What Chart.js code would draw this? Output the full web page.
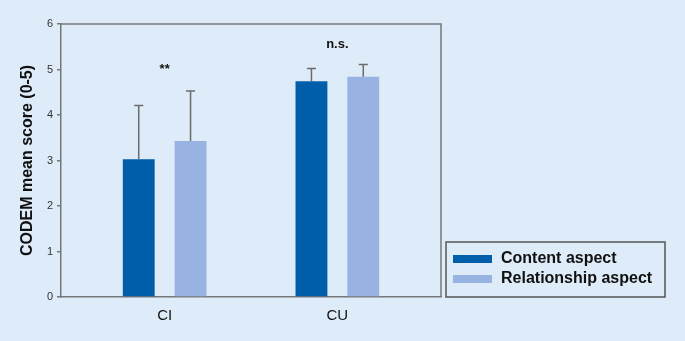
<!doctype html>
<html lang="en">
<head>
<meta charset="utf-8">
<title>CODEM mean score</title>
<script src="https://cdn.jsdelivr.net/npm/chart.js@4.4.0/dist/chart.umd.min.js"></script>
<style>
html, body { margin: 0; padding: 0; background: #deebf8; }
#wrap { width: 685px; height: 341px; }
</style>
</head>
<body>
<div id="wrap"><canvas id="barChart" width="685" height="341"></canvas></div>
<script>
// values
var groups = ['CI', 'CU'];
var seriesNames = ['Content aspect', 'Relationship aspect'];
var contentMean = [3.03, 4.74];
var contentSD = [1.18, 0.28];
var relationMean = [3.43, 4.84];
var relationSD = [1.10, 0.27];
var sigText = ['**', 'n.s.'];
var sigLevel = [5.01, 5.56];
var yTicks = [0, 1, 2, 3, 4, 5, 6];

var FONT = '"Liberation Sans", Arial, sans-serif';

function points(vals) {
  var out = [];
  for (var i = 0; i < vals.length; i++) out.push({x: i, y: vals[i]});
  return out;
}

// background of the whole canvas
var bgPlugin = {
  id: 'bg',
  beforeDraw: function(chart) {
    var ctx = chart.ctx;
    ctx.save();
    ctx.fillStyle = '#deebf8';
    ctx.fillRect(0, 0, chart.width, chart.height);
    ctx.restore();
  }
};

// top and right edge of the plot box
var framePlugin = {
  id: 'frame',
  afterDraw: function(chart) {
    var a = chart.chartArea, ctx = chart.ctx;
    ctx.save();
    ctx.strokeStyle = '#777';
    ctx.lineWidth = 1.5;
    ctx.beginPath();
    ctx.moveTo(a.left, a.top);
    ctx.lineTo(a.right, a.top);
    ctx.lineTo(a.right, a.bottom);
    ctx.stroke();
    ctx.restore();
  }
};

// upper SD whiskers
var errorBars = {
  id: 'errorBars',
  afterDatasetsDraw: function(chart) {
    var ctx = chart.ctx, y = chart.scales.y;
    chart.data.datasets.forEach(function(ds, di) {
      var meta = chart.getDatasetMeta(di);
      meta.data.forEach(function(bar, i) {
        var top = y.getPixelForValue(ds.data[i].y + ds.sd[i]);
        ctx.save();
        ctx.strokeStyle = '#6b6b6b';
        ctx.lineWidth = 1.5;
        ctx.beginPath();
        ctx.moveTo(bar.x, bar.y);
        ctx.lineTo(bar.x, top);
        ctx.moveTo(bar.x - 4.5, top);
        ctx.lineTo(bar.x + 4.5, top);
        ctx.stroke();
        ctx.restore();
      });
    });
  }
};

// significance marks above each group
var sigPlugin = {
  id: 'sig',
  afterDatasetsDraw: function(chart) {
    var ctx = chart.ctx, x = chart.scales.x, y = chart.scales.y;
    ctx.save();
    ctx.fillStyle = '#111';
    ctx.textAlign = 'center';
    ctx.textBaseline = 'middle';
    for (var i = 0; i < sigText.length; i++) {
      ctx.font = 'bold 13px ' + FONT;
      ctx.fillText(sigText[i], x.getPixelForValue(i), y.getPixelForValue(sigLevel[i]));
    }
    ctx.restore();
  }
};

// boxed legend at the lower right
var boxLegend = {
  id: 'boxLegend',
  afterDraw: function(chart) {
    var a = chart.chartArea, ctx = chart.ctx;
    var left = a.right + 5, right = chart.width - 20, bottom = a.bottom, top = bottom - 55;
    ctx.save();
    ctx.strokeStyle = '#555';
    ctx.lineWidth = 1.5;
    ctx.strokeRect(left, top, right - left, bottom - top);
    ctx.font = 'bold 16px ' + FONT;
    ctx.textBaseline = 'middle';
    ctx.textAlign = 'left';
    chart.data.datasets.forEach(function(ds, i) {
      var cy = top + 17 + i * 20;
      ctx.fillStyle = ds.backgroundColor;
      ctx.fillRect(left + 7, cy - 4, 39, 8);
      ctx.fillStyle = '#111';
      ctx.fillText(ds.label, left + 55, cy);
    });
    ctx.restore();
  }
};

new Chart(document.getElementById('barChart'), {
  type: 'bar',
  data: {
    datasets: [{
      label: seriesNames[0],
      data: points(contentMean),
      sd: contentSD,
      backgroundColor: '#005eaa'
    }, {
      label: seriesNames[1],
      data: points(relationMean),
      sd: relationSD,
      backgroundColor: '#98b3e2'
    }]
  },
  options: {
    responsive: false,
    animation: false,
    devicePixelRatio: 1,
    categoryPercentage: 0.6,
    barPercentage: 0.615,
    layout: { padding: { top: 24, right: 244, left: 0, bottom: 0 } },
    plugins: { legend: { display: false }, tooltip: { enabled: false } },
    scales: {
      x: {
        type: 'linear',
        offset: false,
        min: -0.6,
        max: 1.6,
        afterBuildTicks: function(scale) {
          scale.ticks = groups.map(function(g, i) { return {value: i}; });
        },
        afterFit: function(scale) { scale.height = 44; },
        grid: { display: false, drawTicks: false },
        border: { display: true, color: '#777', width: 1.5 },
        ticks: {
          padding: 10,
          color: '#111',
          font: { family: FONT, size: 15 },
          callback: function(v) { return groups[v]; }
        }
      },
      y: {
        min: 0,
        max: 6,
        afterBuildTicks: function(scale) {
          scale.ticks = yTicks.map(function(t) { return {value: t}; });
        },
        afterFit: function(scale) { scale.width = 61; },
        grid: { drawOnChartArea: false, drawTicks: true, tickLength: 4, color: '#777', lineWidth: 1.5 },
        border: { display: true, color: '#777', width: 1.5 },
        ticks: { padding: 4, color: '#333', font: { family: FONT, size: 11 } },
        title: {
          display: true,
          text: 'CODEM mean score (0-5)',
          color: '#111',
          padding: { top: 18, bottom: 0 },
          font: { family: FONT, size: 16, weight: 'bold' }
        }
      }
    }
  },
  plugins: [bgPlugin, framePlugin, errorBars, sigPlugin, boxLegend]
});
</script>
</body>
</html>
